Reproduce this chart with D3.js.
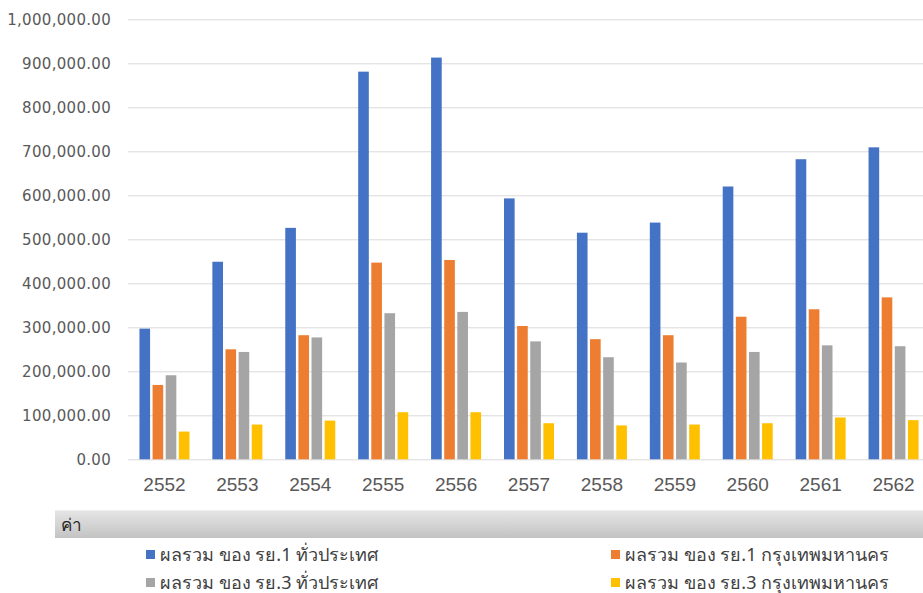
<!DOCTYPE html>
<html>
<head>
<meta charset="utf-8">
<script src="https://cdn.jsdelivr.net/npm/d3@7"></script>
<style>
  html, body { margin: 0; padding: 0; background: #ffffff; overflow: hidden; }
  svg { display: block; }
</style>
</head>
<body>
<svg id="chart" width="923" height="593"></svg>
<script>
// Years (Buddhist era)
const years = ["2552", "2553", "2554", "2555", "2556", "2557", "2558", "2559", "2560", "2561", "2562"];

// Series values
const r1Nation = [297000, 449000, 526000, 881000, 913000, 593000, 515000, 538000, 620000, 682000, 709000];
const r1Bangkok = [169000, 250000, 282000, 447000, 453000, 303000, 273000, 282000, 324000, 341000, 368000];
const r3Nation = [191000, 244000, 277000, 332000, 335000, 268000, 232000, 220000, 244000, 259000, 257000];
const r3Bangkok = [63000, 79000, 88000, 107000, 107000, 82000, 77000, 79000, 82000, 95000, 89000];

// Series names and colours
const seriesNames = [
  "ผลรวม ของ รย.1 ทั่วประเทศ",
  "ผลรวม ของ รย.1 กรุงเทพมหานคร",
  "ผลรวม ของ รย.3 ทั่วประเทศ",
  "ผลรวม ของ รย.3 กรุงเทพมหานคร"
];
const seriesColors = ["#4472c4", "#ed7d31", "#a5a5a5", "#ffc000"];
const seriesValues = [r1Nation, r1Bangkok, r3Nation, r3Bangkok];

// Y-axis ticks
const yTicks = [0, 100000, 200000, 300000, 400000, 500000, 600000, 700000, 800000, 900000, 1000000];

const svg = d3.select("#chart");

const plot = { left: 128, right: 930, top: 19.3, bottom: 459.3 };

const x0 = d3.scaleBand().domain(years).range([plot.left, plot.right]).paddingInner(0).paddingOuter(0);
const x1 = d3.scaleBand().domain(d3.range(seriesNames.length)).range([-25, 25]).paddingInner(0.19);
const y = d3.scaleLinear().domain([0, 1000000]).range([plot.bottom, plot.top]);

const fmt = d3.format(",.2f");

// Gridlines and y labels
const yAxis = d3.axisLeft(y)
  .tickValues(yTicks)
  .tickSize(-(plot.right - plot.left))
  .tickPadding(17)
  .tickFormat(fmt);

const gy = svg.append("g")
  .attr("transform", `translate(${plot.left},0)`)
  .call(yAxis);
gy.select(".domain").remove();
gy.selectAll(".tick line").attr("stroke", "#d9d9d9").attr("stroke-width", 1);
gy.selectAll(".tick text")
  .attr("fill", "#595959")
  .style("font-family", "'DejaVu Sans', sans-serif")
  .style("font-size", "15px")
  .style("letter-spacing", "0.3px");

// Bars
const groups = svg.append("g").selectAll("g")
  .data(years)
  .join("g")
  .attr("transform", d => `translate(${x0(d) + x0.bandwidth() / 2},0)`);

groups.selectAll("rect")
  .data((d, i) => seriesValues.map((vals, s) => ({ s, v: vals[i] })))
  .join("rect")
  .attr("x", d => x1(d.s))
  .attr("width", x1.bandwidth())
  .attr("y", d => y(d.v))
  .attr("height", d => y(0) - y(d.v))
  .attr("fill", d => seriesColors[d.s]);

// X labels
const xAxis = d3.axisBottom(x0).tickSize(0).tickPadding(18);
const gx = svg.append("g")
  .attr("transform", `translate(0,${plot.bottom})`)
  .call(xAxis);
gx.select(".domain").remove();
gx.selectAll(".tick text")
  .attr("fill", "#595959")
  .style("font-family", "'Liberation Sans', Arial, sans-serif")
  .style("font-size", "19px");

// Field header bar
const defs = svg.append("defs");
const grad = defs.append("linearGradient")
  .attr("id", "hdr").attr("x1", 0).attr("y1", 0).attr("x2", 0).attr("y2", 1);
grad.append("stop").attr("offset", "0%").attr("stop-color", "#e6e6e6");
grad.append("stop").attr("offset", "100%").attr("stop-color", "#c3c3c3");

svg.append("rect")
  .attr("x", 55).attr("y", 510).attr("width", 870).attr("height", 28)
  .attr("fill", "url(#hdr)");
svg.append("line")
  .attr("x1", 55).attr("x2", 925).attr("y1", 510.5).attr("y2", 510.5)
  .attr("stroke", "#efefef");
svg.append("text")
  .attr("x", 61).attr("y", 531)
  .attr("fill", "#262626")
  .style("font-family", "'Noto Sans', 'DejaVu Sans', sans-serif")
  .style("font-size", "17px")
  .text("ค่า");

// Legend
const legendPos = [
  { x: 146, y: 550 },
  { x: 611, y: 550 },
  { x: 146, y: 578 },
  { x: 611, y: 578 }
];
const legend = svg.append("g").selectAll("g")
  .data(seriesNames)
  .join("g")
  .attr("transform", (d, i) => `translate(${legendPos[i].x},${legendPos[i].y})`);
legend.append("rect")
  .attr("width", 9).attr("height", 9)
  .attr("fill", (d, i) => seriesColors[i]);
legend.append("text")
  .attr("x", 14).attr("y", 10.5)
  .attr("fill", "#404040")
  .style("font-family", "'Noto Sans', 'DejaVu Sans', sans-serif")
  .style("font-size", "18px")
  .text(d => d);
</script>
</body>
</html>
